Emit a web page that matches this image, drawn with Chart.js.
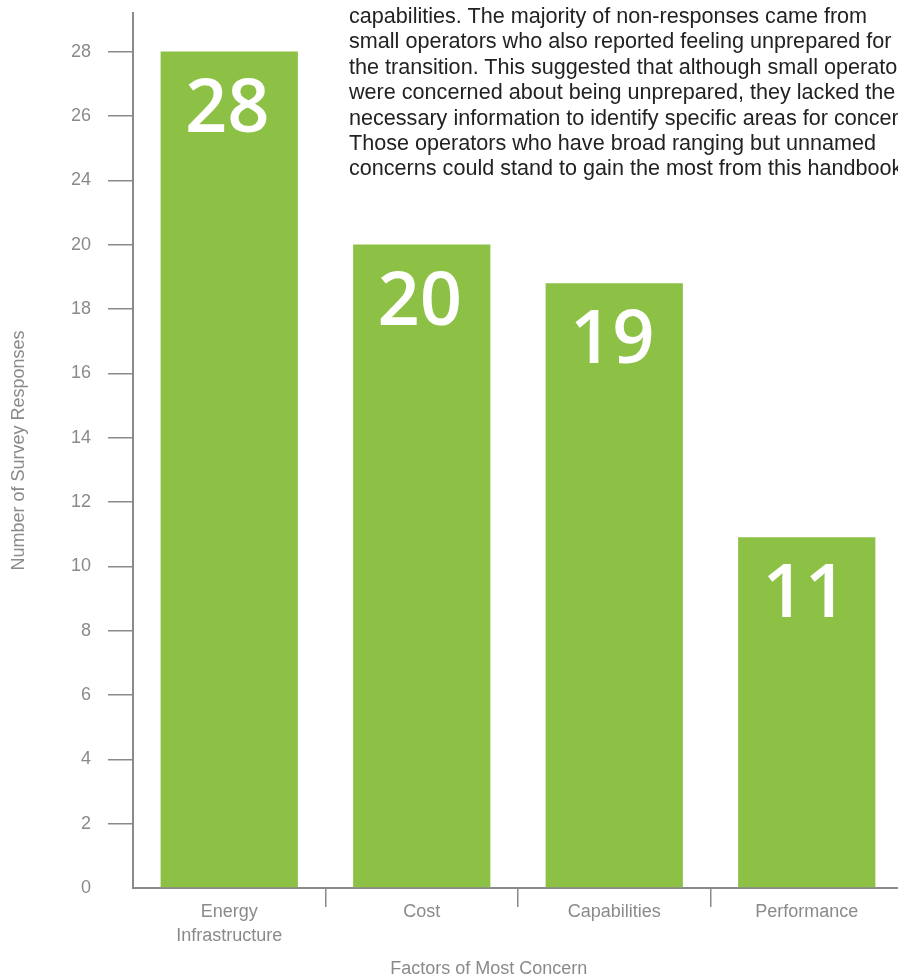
<!DOCTYPE html>
<html>
<head>
<meta charset="utf-8">
<script src="https://cdn.jsdelivr.net/npm/chart.js@4.4.1/dist/chart.umd.min.js"></script>
<style>
  html, body { margin: 0; padding: 0; background: #fff; overflow: hidden; }
  #wrap { position: relative; width: 898px; height: 975px; overflow: hidden; }
  #note {
    position: absolute; left: 349px; top: 3px;
    font: 21.6px "Liberation Sans", Arial, sans-serif; line-height: 25.4px;
    color: #222; white-space: nowrap;
  }
</style>
</head>
<body>
<div id="wrap">
  <canvas id="factorChart" width="903" height="975"></canvas>
  <div id="note">capabilities. The majority of non-responses came from<br>small operators who also reported feeling unprepared for<br>the transition. This suggested that although small operators<br>were concerned about being unprepared, they lacked the<br>necessary information to identify specific areas for concern.<br>Those operators who have broad ranging but unnamed<br>concerns could stand to gain the most from this handbook.</div>
</div>
<script>
// categories and values
var factors = [['Energy', 'Infrastructure'], 'Cost', 'Capabilities', 'Performance'];
// bar heights measured against the printed axis (its labels skip 22)
var barHeights = [26, 20, 18.8, 10.9];
// numbers printed inside the bars
var barLabels = ['28', '20', '19', '11'];
// tick labels as printed on the y axis
var yTickLabels = ['0', '2', '4', '6', '8', '10', '12', '14', '16', '18', '20', '24', '26', '28'];

var gray = '#8a8a8a';

var barText = {
    id: 'barText',
    afterDatasetsDraw: function (chart) {
        var ctx = chart.ctx;
        var meta = chart.getDatasetMeta(0);
        ctx.save();
        ctx.fillStyle = '#fff';
        ctx.font = '600 74px "Open Sans", sans-serif';
        ctx.textAlign = 'center';
        ctx.textBaseline = 'alphabetic';
        meta.data.forEach(function (bar, i) {
            ctx.fillText(barLabels[i], bar.x - 2, bar.y + 80);
        });
        // x axis title
        ctx.fillStyle = gray;
        ctx.font = '18px "Liberation Sans", Arial, sans-serif';
        ctx.textBaseline = 'middle';
        var area = chart.chartArea;
        ctx.fillText('Factors of Most Concern', area.left + area.width * 0.462, chart.height - 6);
        ctx.restore();
    }
};

var ctx = document.getElementById('factorChart').getContext('2d');
new Chart(ctx, {
    type: 'bar',
    data: {
        labels: factors,
        datasets: [{
            data: barHeights,
            backgroundColor: '#8dc145',
            barPercentage: 1,
            categoryPercentage: 0.713
        }]
    },
    options: {
        responsive: false,
        animation: false,
        layout: { padding: { top: 13, right: 0, left: 0, bottom: 0 } },
        plugins: { legend: { display: false }, tooltip: { enabled: false } },
        scales: {
            x: {
                afterFit: function (scale) { scale.height = 87; },
                grid: {
                    offset: true,
                    drawOnChartArea: false,
                    tickLength: 19,
                    lineWidth: 1.5,
                    color: function (c) { return c.index === 0 ? 'rgba(0,0,0,0)' : gray; }
                },
                border: { color: gray, width: 2 },
                ticks: {
                    color: gray,
                    padding: -7,
                    font: { family: '"Liberation Sans", Arial, sans-serif', size: 18, lineHeight: 1.33 }
                }
            },
            y: {
                min: 0,
                max: 27.2,
                afterFit: function (scale) {
                    scale.width = 133;
                    scale.paddingTop = 0;
                    scale.paddingBottom = 0;
                },
                grid: {
                    drawOnChartArea: false,
                    tickLength: 25,
                    lineWidth: 1.5,
                    color: function (c) { return c.index === 0 ? 'rgba(0,0,0,0)' : gray; }
                },
                border: { color: gray, width: 2 },
                ticks: {
                    stepSize: 2,
                    includeBounds: false,
                    color: gray,
                    padding: 17,
                    font: { family: '"Liberation Sans", Arial, sans-serif', size: 18 },
                    callback: function (v) { return yTickLabels[Math.round(v / 2)]; }
                },
                title: {
                    display: true,
                    text: 'Number of Survey Responses',
                    color: gray,
                    padding: { top: 8, bottom: 0 },
                    font: { family: '"Liberation Sans", Arial, sans-serif', size: 18 }
                }
            }
        }
    },
    plugins: [barText]
});
</script>
</body>
</html>
